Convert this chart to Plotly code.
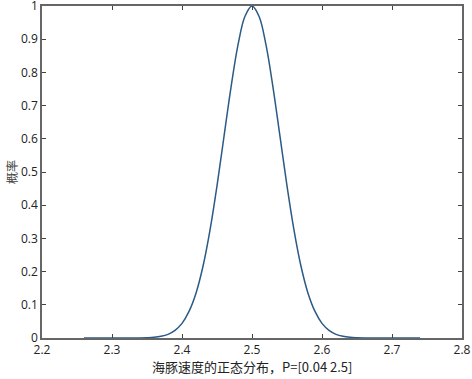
import plotly.graph_objects as go

# Values
x_vals = [2.26, 2.27, 2.28, 2.29, 2.30, 2.31, 2.32, 2.33, 2.34, 2.35, 2.36, 2.37, 2.38, 2.39,
          2.40, 2.41, 2.42, 2.43, 2.44, 2.45, 2.46, 2.47, 2.48, 2.49, 2.50,
          2.51, 2.52, 2.53, 2.54, 2.55, 2.56, 2.57, 2.58, 2.59, 2.60, 2.61, 2.62,
          2.63, 2.64, 2.65, 2.66, 2.67, 2.68, 2.69, 2.70, 2.71, 2.72, 2.73, 2.74]
y_vals = [0.0, 0.0, 0.0, 0.0, 0.0, 0.0, 0.0001, 0.0001, 0.0003, 0.0009, 0.0022, 0.0051, 0.011, 0.023,
          0.044, 0.080, 0.135, 0.216, 0.325, 0.458, 0.607, 0.755, 0.883, 0.969, 1.0,
          0.969, 0.883, 0.755, 0.607, 0.458, 0.325, 0.216, 0.135, 0.080, 0.044, 0.023, 0.011,
          0.0051, 0.0022, 0.0009, 0.0003, 0.0001, 0.0001, 0.0, 0.0, 0.0, 0.0, 0.0, 0.0]

x_ticks = [2.2, 2.3, 2.4, 2.5, 2.6, 2.7, 2.8]
x_tick_labels = ["2.2", "2.3", "2.4", "2.5", "2.6", "2.7", "2.8"]
y_ticks = [0, 0.1, 0.2, 0.3, 0.4, 0.5, 0.6, 0.7, 0.8, 0.9, 1]
y_tick_labels = ["0", "0.1", "0.2", "0.3", "0.4", "0.5", "0.6", "0.7", "0.8", "0.9", "1"]

x_title = "海豚速度的正态分布，P=[0.04 2.5]"
y_title = "概率"

fig = go.Figure()
fig.add_trace(go.Scatter(x=x_vals, y=y_vals, mode="lines",
                         line=dict(color="#2a5a85", width=1.5, shape="spline", smoothing=1.0),
                         showlegend=False, hoverinfo="skip", cliponaxis=False))

tick_font = dict(family="Open Sans, Noto Sans, sans-serif", size=12, color="#222222")
axis_common = dict(showgrid=False, zeroline=False, showline=True, linecolor="#666666",
                   linewidth=1.5, mirror="ticks", ticks="inside", ticklen=4, tickwidth=1,
                   tickcolor="#444444", automargin=False, ticklabeloverflow="allow",
                   tickfont=tick_font)

fig.update_layout(
    width=472, height=379,
    margin=dict(l=42, r=10, t=6, b=41),
    paper_bgcolor="white", plot_bgcolor="white",
    font=dict(family="Open Sans, Noto Sans CJK SC, sans-serif", size=12, color="#222222"),
    xaxis=dict(range=[2.2, 2.8], tickvals=x_ticks, ticktext=x_tick_labels, ticklabelstandoff=0,
               **axis_common),
    yaxis=dict(range=[0, 1], tickvals=y_ticks, ticktext=y_tick_labels,
               **axis_common),
    annotations=[
        dict(text=x_title, xref="paper", yref="paper", x=0.5, y=0, yshift=-17,
             xanchor="center", yanchor="top", showarrow=False,
             font=dict(family="Noto Sans CJK SC, sans-serif", size=13, color="#222222")),
        dict(text=y_title, xref="paper", yref="paper", x=0, y=0.5, xshift=-31,
             xanchor="center", yanchor="middle", showarrow=False, textangle=-90,
             font=dict(family="Noto Sans CJK SC, sans-serif", size=12, color="#444444")),
    ],
)

fig.write_html("out.html", config={"displayModeBar": False},
               post_script="document.body.style.margin='0px';document.body.style.padding='0px';document.body.style.overflow='hidden';")
